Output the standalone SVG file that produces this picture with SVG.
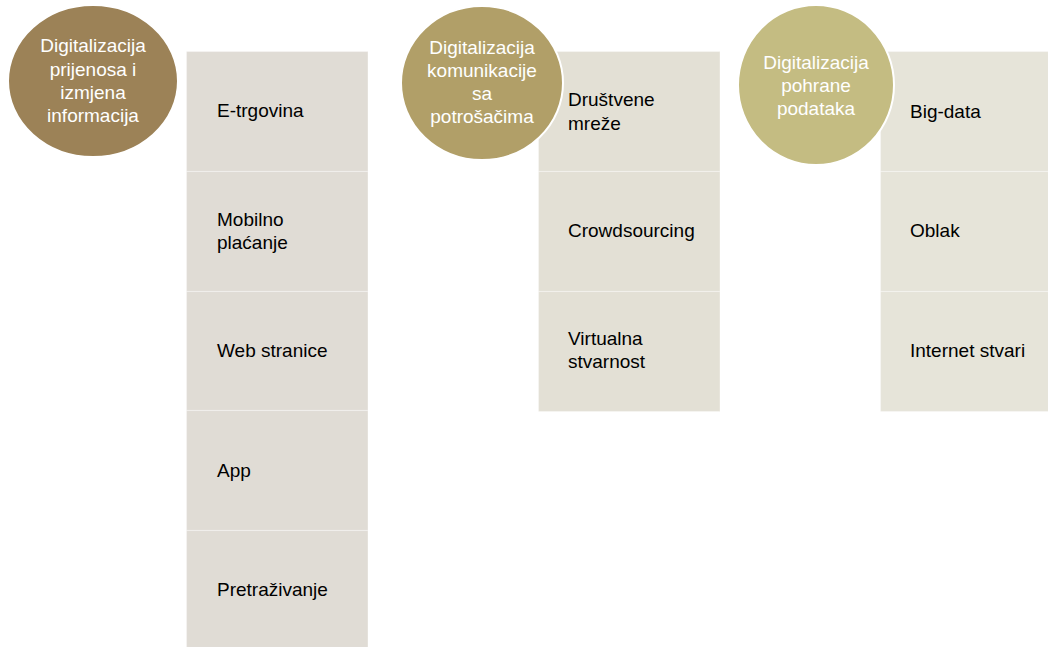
<svg xmlns="http://www.w3.org/2000/svg" width="1048" height="647" viewBox="0 0 1048 647">
<style>
.row{stroke:#ffffff;stroke-opacity:0.3;stroke-width:1.2}
.c1 .row{fill:#E0DCD5}
.c2 .row{fill:#E3E0D5}
.c3 .row{fill:#E6E4D9}
.item{font-family:"Liberation Sans",Arial,sans-serif;font-size:19px;fill:#000000}
.head{font-family:"Liberation Sans",Arial,sans-serif;font-size:19px;fill:#ffffff;text-anchor:middle}
.circ{stroke:#ffffff;stroke-width:2}
</style>
<rect width="1048" height="647" fill="#ffffff"/>
<g id="column1" class="c1">
<rect class="row" x="186.5" y="51.5" width="181.5" height="120"/>
<rect class="row" x="186.5" y="171.5" width="181.5" height="120"/>
<rect class="row" x="186.5" y="291.5" width="181.5" height="119"/>
<rect class="row" x="186.5" y="410.5" width="181.5" height="120"/>
<rect class="row" x="186.5" y="530.5" width="181.5" height="117"/>
<text class="item" x="217" y="117">E-trgovina</text>
<text class="item" x="217" y="226">Mobilno</text>
<text class="item" x="217" y="249">plaćanje</text>
<text class="item" x="217" y="357">Web stranice</text>
<text class="item" x="217" y="477">App</text>
<text class="item" x="217" y="596">Pretraživanje</text>
</g>
<g id="column2" class="c2">
<rect class="row" x="538.5" y="51.5" width="181.5" height="120"/>
<rect class="row" x="538.5" y="171.5" width="181.5" height="120"/>
<rect class="row" x="538.5" y="291.5" width="181.5" height="120"/>
<text class="item" x="568" y="106">Društvene</text>
<text class="item" x="568" y="130">mreže</text>
<text class="item" x="568" y="237">Crowdsourcing</text>
<text class="item" x="568" y="345">Virtualna</text>
<text class="item" x="568" y="368">stvarnost</text>
</g>
<g id="column3" class="c3">
<rect class="row" x="880.5" y="51.5" width="168" height="120"/>
<rect class="row" x="880.5" y="171.5" width="168" height="120"/>
<rect class="row" x="880.5" y="291.5" width="168" height="120"/>
<text class="item" x="910" y="118">Big-data</text>
<text class="item" x="910" y="237">Oblak</text>
<text class="item" x="910" y="357">Internet stvari</text>
</g>
<g id="head1">
<ellipse class="circ" cx="93" cy="81" rx="85" ry="76" fill="#9C8257"/>
<text class="head" x="93" y="52">Digitalizacija</text>
<text class="head" x="93" y="76">prijenosa i</text>
<text class="head" x="93" y="99">izmjena</text>
<text class="head" x="93" y="122">informacija</text>
</g>
<g id="head2">
<ellipse class="circ" cx="482" cy="83" rx="81" ry="77" fill="#B19F68"/>
<text class="head" x="482" y="54">Digitalizacija</text>
<text class="head" x="482" y="77">komunikacije</text>
<text class="head" x="482" y="100">sa</text>
<text class="head" x="482" y="123">potrošačima</text>
</g>
<g id="head3">
<ellipse class="circ" cx="816" cy="85" rx="78" ry="80" fill="#C4BC82"/>
<text class="head" x="816" y="69">Digitalizacija</text>
<text class="head" x="816" y="92">pohrane</text>
<text class="head" x="816" y="115">podataka</text>
</g>
<g id="connectors"/>
</svg>
